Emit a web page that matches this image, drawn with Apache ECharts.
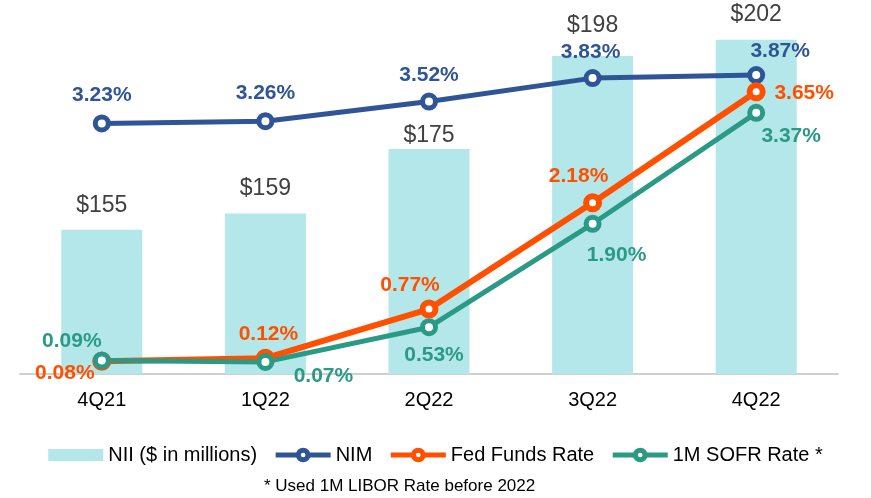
<!DOCTYPE html>
<html>
<head>
<meta charset="utf-8">
<style>
  html, body { margin: 0; padding: 0; background: #fff; }
  #main { width: 871px; height: 498px; }
</style>
<script src="https://cdn.jsdelivr.net/npm/echarts@6/dist/echarts.min.js"></script>
</head>
<body>
<div id="main"></div>
<script>
// 数据
var quarters = ['4Q21', '1Q22', '2Q22', '3Q22', '4Q22'];
var nii = [155, 159, 175, 198, 202];
var nim = [3.23, 3.26, 3.52, 3.83, 3.87];
var fedFunds = [0.08, 0.12, 0.77, 2.18, 3.65];
var sofr = [0.09, 0.07, 0.53, 1.90, 3.37];

// label placement (hand-placed in the original slide)
var niiLabelGap = [13, 13, 2, 19, 14];
var nimLabelOffset = [[0, -28], [0, -28], [0, -26], [-2, -26], [24, -24]];
var fedLabelOffset = [[-37, 12], [3, -24], [-19, -24], [-14, -26], [48, 1]];
var sofrLabelOffset = [[-30, -19], [58, 14], [5, 28], [24, 31], [35, 23]];

var font = 'Liberation Sans, Arial, sans-serif';

function lineData(values, offsets) {
  return values.map(function (v, i) {
    return { value: v, label: { offset: offsets[i] } };
  });
}

function lineSeries(name, values, offsets, color, width, border) {
  return {
    name: name,
    type: 'line',
    yAxisIndex: 1,
    data: lineData(values, offsets),
    symbol: 'circle',
    symbolSize: 13,
    lineStyle: { color: color, width: width },
    itemStyle: { color: '#fff', borderColor: color, borderWidth: border },
    label: {
      show: true,
      position: 'inside',
      formatter: function (p) { return p.value.toFixed(2) + '%'; },
      color: color,
      fontFamily: font,
      fontWeight: 'bold',
      fontSize: 21
    },
    z: 3
  };
}

var myChart = echarts.init(document.getElementById('main'));

var option = {
  animation: false,
  title: {
    text: '* Used 1M LIBOR Rate before 2022',
    left: 264,
    top: 478,
    padding: 0,
    textStyle: { fontFamily: font, fontSize: 17, fontWeight: 'normal', color: '#000' }
  },
  grid: { left: 20, right: 33, top: 20, bottom: 124 },
  legend: {
    top: 440,
    left: 'center',
    itemGap: 16,
    itemWidth: 55,
    itemHeight: 12,
    textStyle: { fontFamily: font, fontSize: 20, color: '#000' },
    data: [
      { name: 'NII ($ in millions)', icon: 'rect' },
      { name: 'NIM', lineStyle: { width: 5 }, itemStyle: { borderWidth: 5 } },
      { name: 'Fed Funds Rate', lineStyle: { width: 5 }, itemStyle: { borderWidth: 5 } },
      { name: '1M SOFR Rate *', lineStyle: { width: 5 }, itemStyle: { borderWidth: 5 } }
    ]
  },
  xAxis: {
    type: 'category',
    data: quarters,
    axisLine: { onZero: false, lineStyle: { color: '#d0d0d0', width: 2 } },
    axisTick: { show: false },
    axisLabel: { fontFamily: font, fontSize: 20, color: '#000', margin: 16 }
  },
  yAxis: [
    { type: 'value', min: 119.3, max: 206.9, show: false, splitLine: { show: false } },
    { type: 'value', min: -0.09, max: 4.6, show: false, splitLine: { show: false } }
  ],
  series: [
    {
      name: 'NII ($ in millions)',
      type: 'bar',
      barWidth: 81,
      data: nii.map(function (v, i) {
        return { value: v, label: { distance: niiLabelGap[i] } };
      }),
      itemStyle: { color: '#b4e7e9' },
      label: {
        show: true,
        position: 'top',
        formatter: '${c}',
        fontFamily: font,
        fontSize: 23,
        color: '#404040'
      },
      z: 1
    },
    lineSeries('NIM', nim, nimLabelOffset, '#2f5597', 5, 5),
    lineSeries('Fed Funds Rate', fedFunds, fedLabelOffset, '#ff5000', 6, 6),
    lineSeries('1M SOFR Rate *', sofr, sofrLabelOffset, '#2a9a86', 5, 5)
  ]
};

myChart.setOption(option);
</script>
</body>
</html>
